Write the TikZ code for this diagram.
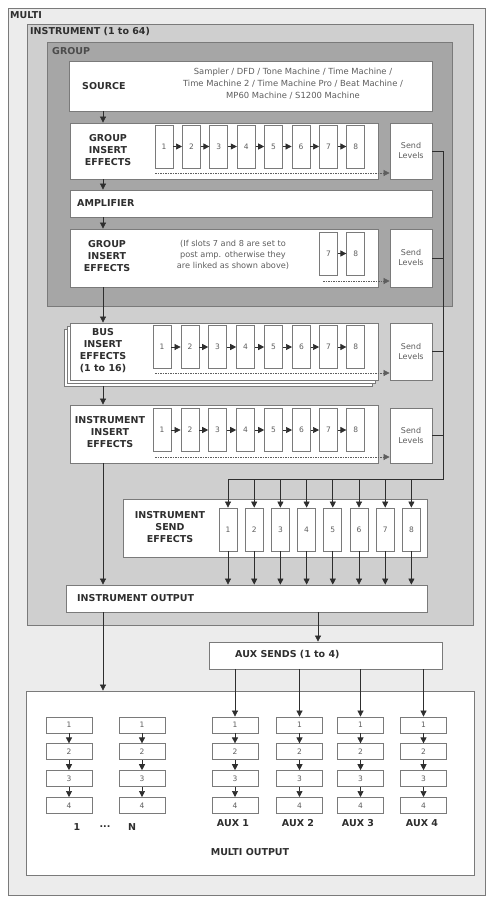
\documentclass[tikz,border=0pt]{standalone}
\usepackage{fontspec}
\setmainfont{DejaVu Sans}
\usetikzlibrary{arrows.meta}

\definecolor{multifill}{HTML}{ECECEC}
\definecolor{instfill}{HTML}{CFCFCF}
\definecolor{groupfill}{HTML}{A6A6A6}
\definecolor{edge}{HTML}{7A7A7A}
\definecolor{ink}{HTML}{2E2E2E}
\definecolor{softink}{HTML}{5E5E5E}

\begin{document}
\begin{tikzpicture}[x=1pt,y=-1pt,
    frame/.style={draw=edge,line width=0.8pt},
    box/.style={draw=edge,fill=white,line width=0.8pt,inner sep=0pt},
    slot/.style={box,minimum width=18pt,minimum height=43pt,
      font=\fontsize{7.5}{8}\selectfont,text=softink},
    cell/.style={box,minimum width=46pt,minimum height=16pt,
      font=\fontsize{7.5}{8}\selectfont,text=softink},
    sendbox/.style={box,minimum width=42pt,align=center,
      font=\fontsize{8}{10}\selectfont,text=softink},
    head/.style={font=\fontsize{9.5}{12}\selectfont\bfseries,text=ink,
      align=center,inner sep=0pt},
    note/.style={font=\fontsize{8.4}{12}\selectfont,text=softink,
      align=center,inner sep=0pt},
    flow/.style={draw=ink,line width=0.7pt,-{Triangle[length=6pt,width=6pt]}},
    wire/.style={draw=ink,line width=0.9pt},
    dotted flow/.style={flow,draw=softink,dash pattern=on 1.5pt off 1pt}]
  \useasboundingbox (0,0) rectangle (493,899);

  % nested areas
  \draw[frame,fill=multifill] (8,8) rectangle (485,895);
  \draw[frame,fill=instfill] (27,24) rectangle (473,625);
  \draw[frame,fill=groupfill] (47,42) rectangle (452,306);
  \node[head,anchor=west] (multilabel) at (10,15) {MULTI};
  \node[head,anchor=west] (instlabel) at (30,32) {INSTRUMENT (1 to 64)};
  \node[head,anchor=west,text=softink!80!black] (grouplabel) at (52,51) {GROUP};

  % group
  \node[box,minimum width=363pt,minimum height=50pt] (source) at (250.5,86) {};
  \node[head,anchor=west] (sourcelabel) at (82,86) {SOURCE};
  \node[note] (sourcelist) at (293,84)
    {Sampler / DFD / Tone Machine / Time Machine /\\
     Time Machine 2 / Time Machine Pro / Beat Machine /\\
     MP60 Machine / S1200 Machine};

  \node[box,minimum width=308pt,minimum height=56pt] (gins) at (224,151) {};
  \node[head] (ginslabel) at (108,150) {GROUP\\INSERT\\EFFECTS};
  \node[sendbox,minimum height=56pt] (gsend) at (411,151) {Send\\Levels};
  \draw
    (164,146.5) node[slot] (g1){1}
    (191.4,146.5) node[slot] (g2){2}
    (218.8,146.5) node[slot] (g3){3}
    (246.2,146.5) node[slot] (g4){4}
    (273.6,146.5) node[slot] (g5){5}
    (301,146.5) node[slot] (g6){6}
    (328.4,146.5) node[slot] (g7){7}
    (355.8,146.5) node[slot] (g8){8};

  \node[box,minimum width=362pt,minimum height=27pt] (amp) at (251,203.5) {};
  \node[head,anchor=west] (amplabel) at (77,203.5) {AMPLIFIER};

  \node[box,minimum width=308pt,minimum height=58pt] (gpost) at (224,258) {};
  \node[head] (gpostlabel) at (107,256) {GROUP\\INSERT\\EFFECTS};
  \node[note,font=\fontsize{8.2}{11}\selectfont] (gpostnote) at (233,255)
    {(If slots 7 and 8 are set to\\post amp. otherwise they\\are linked as shown above)};
  \node[sendbox,minimum height=58pt] (gpsend) at (411,258) {Send\\Levels};
  \draw
    (328.4,253.5) node[slot] (gp7){7}
    (355.8,253.5) node[slot] (gp8){8};

  % instrument
  \node[box,minimum width=308pt,minimum height=57pt] (busback) at (218,357.5) {};
  \node[box,minimum width=308pt,minimum height=57pt] (busmid) at (221,354.5) {};
  \node[box,minimum width=308pt,minimum height=57pt] (bus) at (224,351.5) {};
  \node[head] (buslabel) at (103,351) {BUS\\INSERT\\EFFECTS\\(1 to 16)};
  \node[sendbox,minimum height=57pt] (bsend) at (411,351.5) {Send\\Levels};
  \draw
    (162,347) node[slot] (b1){1}
    (190,347) node[slot] (b2){2}
    (217.6,347) node[slot] (b3){3}
    (245.6,347) node[slot] (b4){4}
    (273.6,347) node[slot] (b5){5}
    (301.4,347) node[slot] (b6){6}
    (328.4,347) node[slot] (b7){7}
    (355.8,347) node[slot] (b8){8};

  \node[box,minimum width=308pt,minimum height=58pt] (iins) at (224,434) {};
  \node[head] (iinslabel) at (110,432) {INSTRUMENT\\INSERT\\EFFECTS};
  \node[sendbox,minimum height=55pt] (isend) at (411,435.5) {Send\\Levels};
  \draw
    (162,430) node[slot] (i1){1}
    (190,430) node[slot] (i2){2}
    (217.6,430) node[slot] (i3){3}
    (245.6,430) node[slot] (i4){4}
    (273.6,430) node[slot] (i5){5}
    (301.4,430) node[slot] (i6){6}
    (328.4,430) node[slot] (i7){7}
    (355.8,430) node[slot] (i8){8};

  \node[box,minimum width=304pt,minimum height=58pt] (isfx) at (275,528) {};
  \node[head] (isfxlabel) at (170,527) {INSTRUMENT\\SEND\\EFFECTS};
  \draw
    (228,529.5) node[slot] (s1){1}
    (254.2,529.5) node[slot] (s2){2}
    (280.4,529.5) node[slot] (s3){3}
    (306.6,529.5) node[slot] (s4){4}
    (332.8,529.5) node[slot] (s5){5}
    (359,529.5) node[slot] (s6){6}
    (385.2,529.5) node[slot] (s7){7}
    (411.4,529.5) node[slot] (s8){8};

  \node[box,minimum width=361pt,minimum height=27pt] (out) at (246.5,598.5) {};
  \node[head,anchor=west] (outlabel) at (77,598.5) {INSTRUMENT OUTPUT};

  % multi
  \node[box,minimum width=233pt,minimum height=27pt] (aux) at (325.5,655.5) {};
  \node[head,anchor=west] (auxlabel) at (235,655) {AUX SENDS (1 to 4)};
  \node[box,minimum width=448pt,minimum height=184pt] (mout) at (250,783) {};
  \node[head] (moutlabel) at (250,852) {MULTI OUTPUT};
  \draw
    (69,725) node[cell] (ca1){1}
    (69,751.8) node[cell] (ca2){2}
    (69,778.6) node[cell] (ca3){3}
    (69,805.4) node[cell] (ca4){4}
    (142,725) node[cell] (cb1){1}
    (142,751.8) node[cell] (cb2){2}
    (142,778.6) node[cell] (cb3){3}
    (142,805.4) node[cell] (cb4){4}
    (235,725) node[cell] (cc1){1}
    (235,751.8) node[cell] (cc2){2}
    (235,778.6) node[cell] (cc3){3}
    (235,805.4) node[cell] (cc4){4}
    (299.5,725) node[cell] (cd1){1}
    (299.5,751.8) node[cell] (cd2){2}
    (299.5,778.6) node[cell] (cd3){3}
    (299.5,805.4) node[cell] (cd4){4}
    (360.5,725) node[cell] (ce1){1}
    (360.5,751.8) node[cell] (ce2){2}
    (360.5,778.6) node[cell] (ce3){3}
    (360.5,805.4) node[cell] (ce4){4}
    (423.5,725) node[cell] (cf1){1}
    (423.5,751.8) node[cell] (cf2){2}
    (423.5,778.6) node[cell] (cf3){3}
    (423.5,805.4) node[cell] (cf4){4};
  \draw
    (77,827) node[head] (firstlabel){1}
    (105,827) node[head] (dotslabel){...}
    (132,827) node[head] (lastlabel){N}
    (233,823) node[head] (aux1label){AUX 1}
    (298,823) node[head] (aux2label){AUX 2}
    (358,823) node[head] (aux3label){AUX 3}
    (422,823) node[head] (aux4label){AUX 4};

  \coordinate (lane) at (103,0);
  \coordinate (auxlane) at (318,0);
  \coordinate (bend) at (443,479);
  \coordinate (gdash) at (155,173);
  \coordinate (gpdash) at (323,281);
  \coordinate (bdash) at (155,373);
  \coordinate (idash) at (155,457);

  \begin{scope}[flow]
    \draw (source.south -| lane) to (gins.north -| lane);
    \draw (gins.south -| lane) to (amp.north -| lane);
    \draw (amp.south -| lane) to (gpost.north -| lane);
    \draw (gpost.south -| lane) to (bus.north -| lane);
    \draw (busback.south -| lane) to (iins.north -| lane);
    \draw (iins.south -| lane) to (out.north -| lane);
    \draw (out.south -| lane) to (mout.north -| lane);
    \draw (out.south -| auxlane) to (aux.north -| auxlane);
    \draw (g1) to (g2);
    \draw (g2) to (g3);
    \draw (g3) to (g4);
    \draw (g4) to (g5);
    \draw (g5) to (g6);
    \draw (g6) to (g7);
    \draw (g7) to (g8);
    \draw (gp7) to (gp8);
    \draw (b1) to (b2);
    \draw (b2) to (b3);
    \draw (b3) to (b4);
    \draw (b4) to (b5);
    \draw (b5) to (b6);
    \draw (b6) to (b7);
    \draw (b7) to (b8);
    \draw (i1) to (i2);
    \draw (i2) to (i3);
    \draw (i3) to (i4);
    \draw (i4) to (i5);
    \draw (i5) to (i6);
    \draw (i6) to (i7);
    \draw (i7) to (i8);
    \draw (bend -| s1) to (s1);
    \draw (bend -| s2) to (s2);
    \draw (bend -| s3) to (s3);
    \draw (bend -| s4) to (s4);
    \draw (bend -| s5) to (s5);
    \draw (bend -| s6) to (s6);
    \draw (bend -| s7) to (s7);
    \draw (bend -| s8) to (s8);
    \draw (s1) to (s1 |- out.north);
    \draw (s2) to (s2 |- out.north);
    \draw (s3) to (s3 |- out.north);
    \draw (s4) to (s4 |- out.north);
    \draw (s5) to (s5 |- out.north);
    \draw (s6) to (s6 |- out.north);
    \draw (s7) to (s7 |- out.north);
    \draw (s8) to (s8 |- out.north);
    \draw (aux.south -| cc1) to (cc1);
    \draw (aux.south -| cd1) to (cd1);
    \draw (aux.south -| ce1) to (ce1);
    \draw (aux.south -| cf1) to (cf1);
    \draw (ca1) to (ca2);
    \draw (ca2) to (ca3);
    \draw (ca3) to (ca4);
    \draw (cb1) to (cb2);
    \draw (cb2) to (cb3);
    \draw (cb3) to (cb4);
    \draw (cc1) to (cc2);
    \draw (cc2) to (cc3);
    \draw (cc3) to (cc4);
    \draw (cd1) to (cd2);
    \draw (cd2) to (cd3);
    \draw (cd3) to (cd4);
    \draw (ce1) to (ce2);
    \draw (ce2) to (ce3);
    \draw (ce3) to (ce4);
    \draw (cf1) to (cf2);
    \draw (cf2) to (cf3);
    \draw (cf3) to (cf4);
  \end{scope}

  \begin{scope}[dotted flow]
    \draw (gdash) to (gdash -| gsend.west);
    \draw (gpdash) to (gpdash -| gpsend.west);
    \draw (bdash) to (bdash -| bsend.west);
    \draw (idash) to (idash -| isend.west);
  \end{scope}

  \draw[wire] (gsend.east) -- (gsend.east -| bend) -- (bend) -- (bend -| s1);
  \draw[wire] (gpsend.east) -- (gpsend.east -| bend);
  \draw[wire] (bsend.east) -- (bsend.east -| bend);
  \draw[wire] (isend.east) -- (isend.east -| bend);
\end{tikzpicture}
\end{document}
